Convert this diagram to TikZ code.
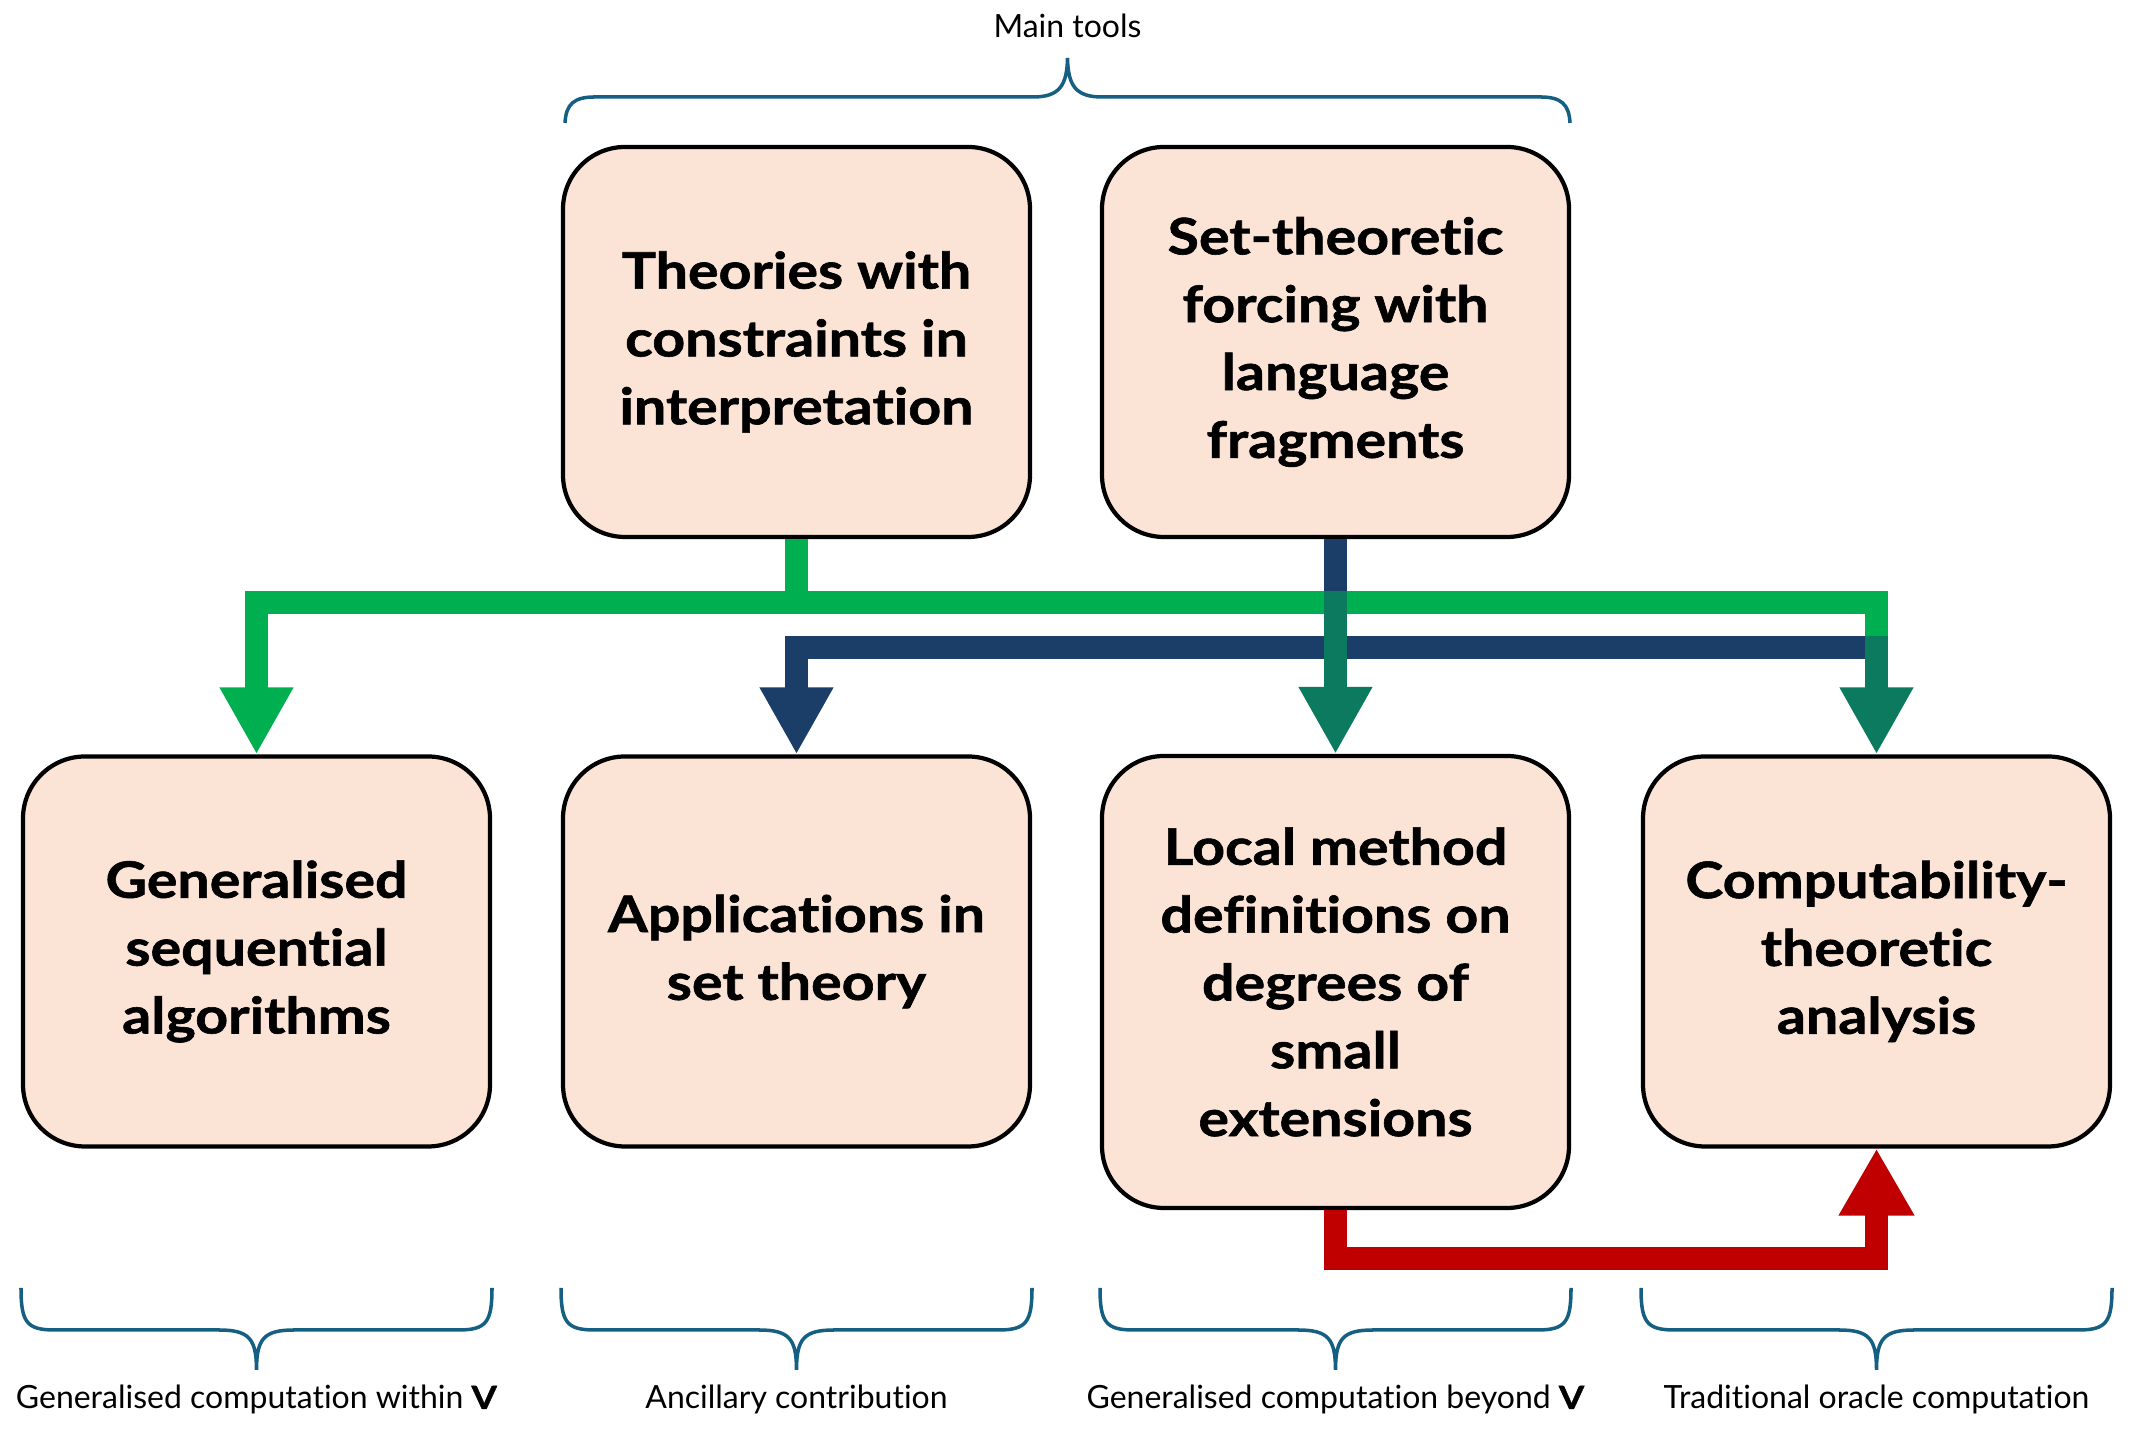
\documentclass[tikz,border=0pt]{standalone}
\usepackage{fontspec}
\setmainfont{Lato}[Ligatures=NoCommon, BoldFeatures={FakeStretch=1.14, FakeBold=1.2}]
\usetikzlibrary{arrows.meta}
\definecolor{boxfill}{HTML}{FBE3D6}
\definecolor{toolgreen}{HTML}{00B050}
\definecolor{toolnavy}{RGB}{26,62,104}
\definecolor{toolteal}{RGB}{11,122,94}
\definecolor{linkred}{HTML}{C00000}
\definecolor{bracecol}{HTML}{156082}
\tikzset{
  topic/.style={draw=black, line width=1.2pt, fill=boxfill, rounded corners=0.62cm,
    minimum width=4.67cm, minimum height=3.9cm, align=center,
    font=\bfseries\fontsize{14.3}{19.3}\selectfont},
  flow/.style={line width=0.23cm, line join=miter, -{Triangle[length=0.67cm,width=0.69cm]}},
  bracket/.style={bracecol, line width=1pt},
  caption/.style={anchor=base, inner sep=0pt, font=\fontsize{9.1}{10}\selectfont}
}
\begin{document}
\begin{tikzpicture}
  \useasboundingbox (0,0) rectangle (21.3,14.3);
  \node[topic] (theories) at ( 7.965,10.88) {Theories with\\constraints in\\interpretation};
  \node[topic] (forcing)  at (13.355,10.88) {Set-theoretic\\forcing with\\language\\fragments};
  \node[topic] (gsa)      at ( 2.565,4.785) {Generalised\\sequential\\algorithms};
  \node[topic] (apps)     at ( 7.965,4.785) {Applications in\\set theory};
  \node[topic, minimum height=4.52cm] (local) at (13.355,4.48) {Local method\\definitions on\\degrees of\\small\\extensions};
  \node[topic] (comp)     at (18.765,4.785) {Computability-\\theoretic\\analysis};

  \coordinate (gbar)   at ( 7.965,8.275);
  \coordinate (gcross) at (13.355,8.39);
  \coordinate (nright) at (18.765,7.825);
  \coordinate (ncross) at (18.765,7.94);
  \coordinate (rbar)   at (13.355,1.715);

  \draw[flow, toolgreen, -] (theories.south) -- (gbar);
  \draw[flow, toolgreen] (gbar) -| (gsa.north);
  \draw[flow, toolgreen, -] (gbar) -| (ncross);
  \draw[flow, toolnavy, -] (forcing.south) -- (gcross);
  \draw[flow, toolnavy] (nright) -| (apps.north);
  \draw[flow, toolteal] (gcross) -- (local.north);
  \draw[flow, toolteal] (ncross) -- (comp.north);
  \draw[flow, linkred, -{Triangle[length=0.67cm,width=0.71cm]}] (local.south) -- (rbar) -| (comp.south);

  \node[caption] (tools) at (10.675,13.92) {Main tools};
  \draw[bracket] (5.65,13.07) .. controls (5.66,13.26) and (5.74,13.33) .. (5.95,13.33) -- (10.33,13.33)
    .. controls (10.59,13.33) and (10.67,13.44) .. (10.675,13.72)
    .. controls (10.68,13.44) and (10.76,13.33) .. (11.02,13.33) -- (15.40,13.33)
    .. controls (15.61,13.33) and (15.69,13.26) .. (15.70,13.07);

  \foreach \x/\t/\n in {2.565/{Generalised computation within \textbf{V}}/within,
                        7.965/{Ancillary contribution}/ancillary,
                        13.355/{Generalised computation beyond \textbf{V}}/beyond,
                        18.765/{Traditional oracle computation}/oracle}{
    \draw[bracket] ({\x-2.355},1.42) .. controls ({\x-2.355},1.08) and ({\x-2.30},1.00) .. ({\x-2.02},1.00)
      -- ({\x-0.38},1.00) .. controls ({\x-0.08},1.00) and (\x,0.92) .. (\x,0.60)
      .. controls (\x,0.92) and ({\x+0.08},1.00) .. ({\x+0.38},1.00)
      -- ({\x+2.02},1.00) .. controls ({\x+2.30},1.00) and ({\x+2.355},1.08) .. ({\x+2.355},1.42);
    \node[caption] (\n) at (\x,0.21) {\t};
  }
\end{tikzpicture}
\end{document}
